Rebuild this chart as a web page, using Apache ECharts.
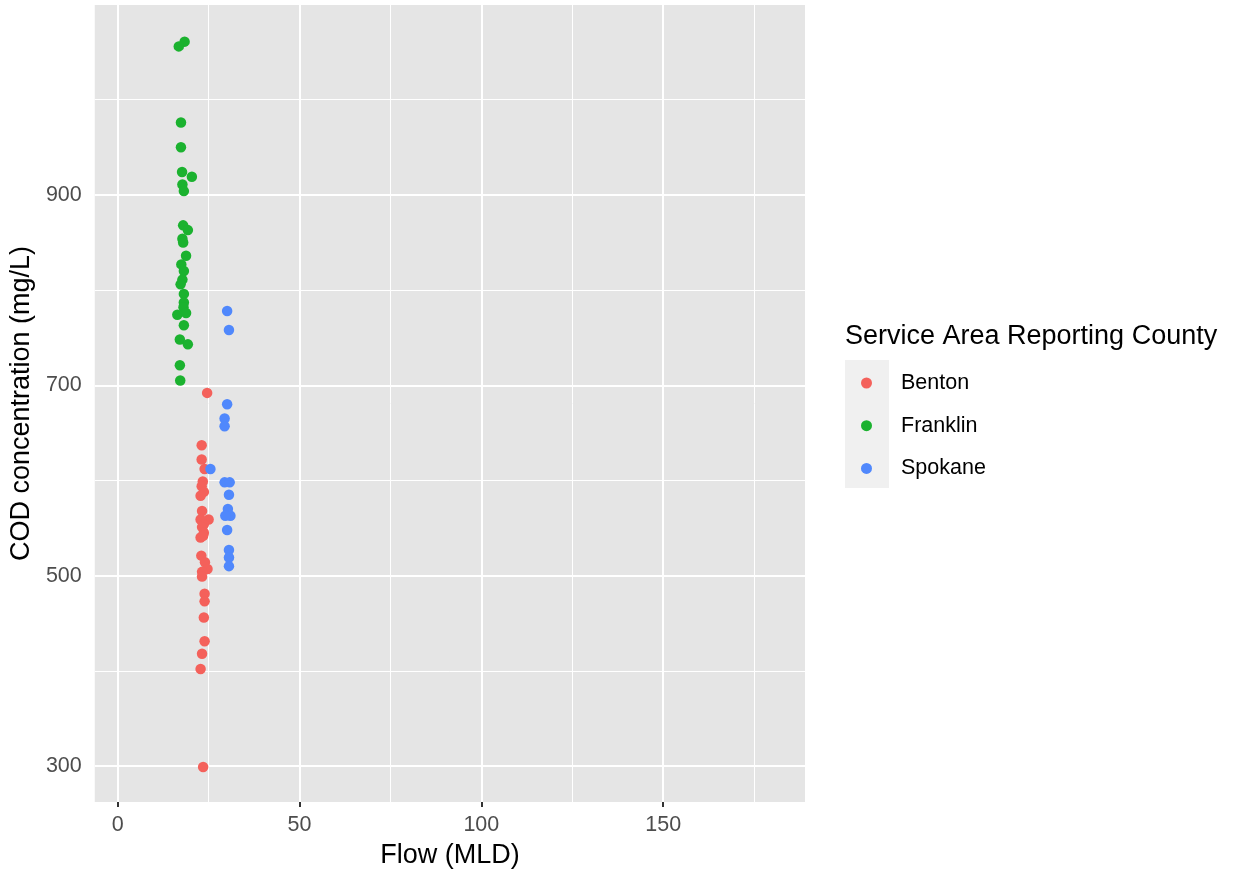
<!DOCTYPE html>
<html>
<head>
<meta charset="utf-8">
<title>COD concentration vs Flow</title>
<script src="https://cdn.jsdelivr.net/npm/echarts@6/dist/echarts.min.js"></script>
<style>
  html, body { margin: 0; padding: 0; background: #ffffff; }
  #chart { width: 1233px; height: 874px; }
</style>
</head>
<body>
<div id="chart"></div>
<script>
// Series names and colours
const counties = ['Benton', 'Franklin', 'Spokane'];
const countyColors = ['#F4615B', '#1BB22F', '#5088FC'];

// [flow (MLD), COD (mg/L)]
const bentonPoints = [
  [24.6, 692], [23.1, 637], [23.1, 622], [23.9, 612], [23.4, 599], [23.1, 594],
  [23.7, 588], [22.8, 584], [23.2, 568], [25.0, 559], [22.8, 559], [23.7, 554],
  [23.2, 551], [23.7, 545], [22.8, 540], [23.5, 542], [23.0, 521], [24.0, 514],
  [24.7, 507], [23.2, 504], [23.2, 499], [23.9, 481], [23.9, 473], [23.7, 456],
  [23.9, 431], [23.2, 418], [22.8, 402], [23.5, 299]
];
const franklinPoints = [
  [18.4, 1061], [16.8, 1056], [17.4, 976], [17.4, 950], [17.7, 924], [20.4, 919],
  [17.8, 911], [18.2, 904], [18.0, 868], [19.3, 863], [17.8, 854], [18.0, 850],
  [18.8, 836], [17.5, 827], [18.2, 820], [17.8, 811], [17.3, 806], [18.2, 796],
  [18.2, 787], [18.1, 782], [16.4, 774], [18.8, 776], [18.2, 763], [17.1, 748],
  [19.3, 743], [17.1, 721], [17.2, 705]
];
const spokanePoints = [
  [30.1, 778], [30.6, 758], [30.1, 680], [29.4, 665], [29.4, 657], [25.5, 612],
  [29.4, 598], [30.8, 598], [30.6, 585], [30.3, 570], [31.0, 563], [29.6, 563],
  [30.1, 548], [30.6, 527], [30.6, 519], [30.6, 510]
];

// Axis breaks
const xMajorTicks = [0, 50, 100, 150];
const xMinorTicks = [25, 75, 125, 175];
const yMajorTicks = [300, 500, 700, 900];
const yMinorTicks = [400, 600, 800, 1000];
const xRange = [-6.3, 189];
const yRange = [262.2, 1099.5];

const FONT = "'Liberation Sans', Arial, Helvetica, sans-serif";

const chart = echarts.init(document.getElementById('chart'), null, { renderer: 'canvas' });

// Panel grid lines drawn as mark lines beneath the points
const gridLines = [];
xMinorTicks.forEach(v => gridLines.push({ xAxis: v, lineStyle: { width: 1 } }));
yMinorTicks.forEach(v => gridLines.push({ yAxis: v, lineStyle: { width: 1 } }));
xMajorTicks.forEach(v => gridLines.push({ xAxis: v, lineStyle: { width: 2 } }));
yMajorTicks.forEach(v => gridLines.push({ yAxis: v, lineStyle: { width: 2 } }));

const pointSeries = [bentonPoints, franklinPoints, spokanePoints].map((pts, i) => ({
  name: counties[i],
  type: 'scatter',
  data: pts,
  symbol: 'circle',
  symbolSize: 10.5,
  itemStyle: { color: countyColors[i], opacity: 1 },
  z: 10,
  emphasis: { disabled: true }
}));

const option = {
  backgroundColor: '#ffffff',
  animation: false,
  textStyle: { fontFamily: FONT },
  title: {
    text: 'Service Area Reporting County',
    left: 845,
    top: 323,
    padding: 0,
    textStyle: { fontFamily: FONT, fontSize: 27, fontWeight: 'normal', color: '#000000' }
  },
  legend: {
    data: counties,
    orient: 'vertical',
    left: 861,
    top: 372,
    padding: 0,
    itemWidth: 11,
    itemHeight: 11,
    itemGap: 20.7,
    icon: 'circle',
    selectedMode: false,
    textStyle: {
      fontFamily: FONT, fontSize: 21.5, color: '#000000', lineHeight: 22,
      padding: [0, 0, 0, 24]
    }
  },
  graphic: [{
    type: 'rect',
    shape: { x: 845, y: 360, width: 44, height: 128 },
    style: { fill: '#f0f0f0' },
    z: -10,
    silent: true
  }],
  grid: {
    left: 94, right: 428, top: 5, bottom: 71,
    show: true, backgroundColor: '#e5e5e5', borderWidth: 0
  },
  xAxis: {
    type: 'value',
    min: xRange[0],
    max: xRange[1],
    name: 'Flow (MLD)',
    nameLocation: 'middle',
    nameGap: 40,
    nameTextStyle: { fontFamily: FONT, fontSize: 27, color: '#000000' },
    axisLine: { show: false },
    axisTick: { show: true, length: 5, customValues: xMajorTicks, lineStyle: { color: '#333333', width: 2 } },
    axisLabel: { customValues: xMajorTicks, margin: 12, fontFamily: FONT, fontSize: 21.5, color: '#4d4d4d' },
    splitLine: { show: false },
    minorSplitLine: { show: false }
  },
  yAxis: {
    type: 'value',
    min: yRange[0],
    max: yRange[1],
    name: 'COD concentration (mg/L)',
    nameLocation: 'middle',
    nameRotate: 90,
    nameGap: 47,
    nameTextStyle: { fontFamily: FONT, fontSize: 27, color: '#000000' },
    axisLine: { show: false },
    axisTick: { show: true, length: 5, customValues: yMajorTicks, lineStyle: { color: '#333333', width: 2 } },
    axisLabel: { customValues: yMajorTicks, margin: 13, fontFamily: FONT, fontSize: 21.5, color: '#4d4d4d' },
    splitLine: { show: false }
  },
  series: [{
    name: 'panel grid',
    type: 'scatter',
    data: [],
    silent: true,
    z: 1,
    markLine: {
      silent: true,
      z: 1,
      symbol: ['none', 'none'],
      label: { show: false },
      animation: false,
      emphasis: { disabled: true },
      lineStyle: { color: '#ffffff', type: 'solid' },
      data: gridLines
    }
  }].concat(pointSeries)
};

chart.setOption(option);
</script>
</body>
</html>
